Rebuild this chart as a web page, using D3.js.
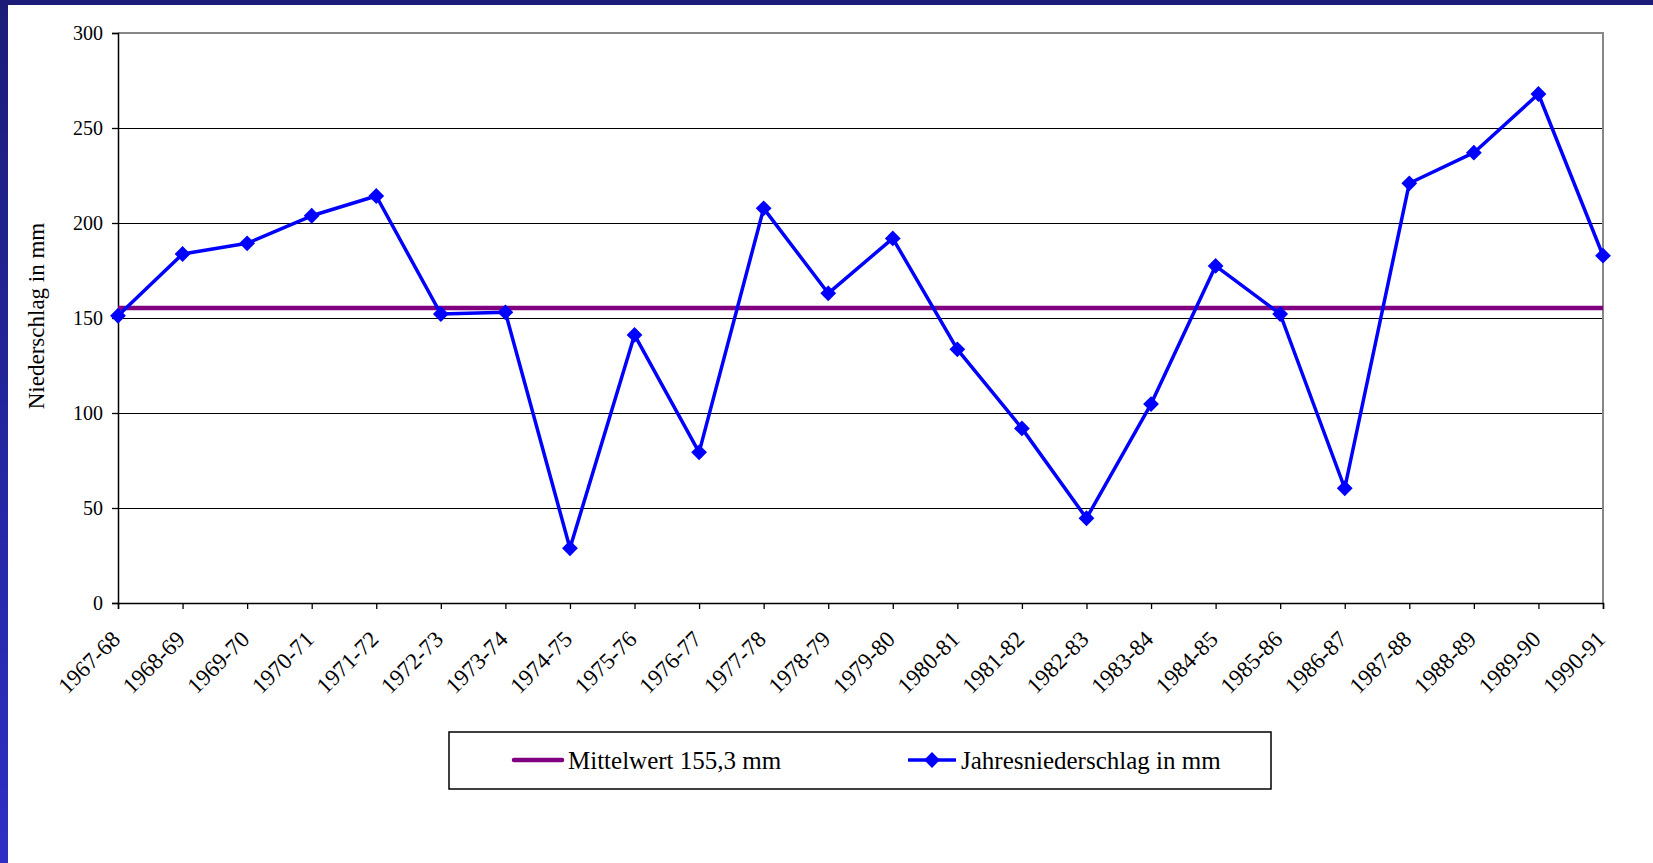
<!DOCTYPE html>
<html>
<head>
<meta charset="utf-8">
<script src="https://cdn.jsdelivr.net/npm/d3@7"></script>
<style>
  html, body { margin: 0; padding: 0; background: #fff; }
  #chart { width: 1653px; height: 863px; }
  text { font-family: "Liberation Serif", "Times New Roman", serif; fill: #000; }
</style>
</head>
<body>
<div id="chart"></div>
<script>
// jahre (x categories)
const years = ["1967-68", "1968-69", "1969-70", "1970-71", "1971-72", "1972-73", "1973-74",
  "1974-75", "1975-76", "1976-77", "1977-78", "1978-79", "1979-80", "1980-81", "1981-82",
  "1982-83", "1983-84", "1984-85", "1985-86", "1986-87", "1987-88", "1988-89", "1989-90", "1990-91"];

// Jahresniederschlag in mm
const niederschlag = [151.2, 183.7, 189.3, 203.8, 214.2, 152.1, 153.0, 28.8, 141.1, 79.3,
  207.7, 163.0, 191.9, 133.5, 91.9, 44.6, 104.7, 177.4, 152.1, 60.4, 220.9, 237.0, 267.9, 182.8];

const mittelwert = 155.3;
const yTicks = [0, 50, 100, 150, 200, 250, 300];
const seriesNames = ["Mittelwert 155,3 mm", "Jahresniederschlag in mm"];

const W = 1653, H = 863;
const margin = { top: 33, right: 50, bottom: 260, left: 118 };

const svg = d3.select("#chart")
  .append("svg")
  .attr("width", W)
  .attr("height", H);

// slide frame: dark band on top, blue band on the left
const grad = svg.append("defs").append("linearGradient")
  .attr("id", "leftband").attr("x1", 0).attr("y1", 0).attr("x2", 0).attr("y2", 1);
grad.append("stop").attr("offset", "0%").attr("stop-color", "#1c1c78");
grad.append("stop").attr("offset", "100%").attr("stop-color", "#2f2fc4");

svg.append("rect").attr("x", 0).attr("y", 0).attr("width", 8).attr("height", H).attr("fill", "url(#leftband)");
svg.append("rect").attr("x", 0).attr("y", 0).attr("width", W).attr("height", 5).attr("fill", "#1c1c78");

const x = d3.scalePoint().domain(years).range([margin.left, W - margin.right]);
const y = d3.scaleLinear().domain([0, 300]).range([H - margin.bottom, margin.top]);

const left = x.range()[0], right = x.range()[1];

// grid lines
svg.append("g")
  .selectAll("line")
  .data(yTicks.filter(d => d > 0 && d < 300))
  .join("line")
  .attr("x1", left).attr("x2", right)
  .attr("y1", d => y(d)).attr("y2", d => y(d))
  .attr("stroke", "#000")
  .attr("stroke-width", 1)
  .attr("shape-rendering", "crispEdges");

// plot border top/right (grey)
svg.append("path")
  .attr("d", `M${left},${y(300)}H${right}V${y(0)}`)
  .attr("fill", "none")
  .attr("stroke", "#888")
  .attr("stroke-width", 1.5)
  .attr("shape-rendering", "crispEdges");

// y axis
const yAxis = svg.append("g")
  .attr("transform", `translate(${left},0)`)
  .call(d3.axisLeft(y).tickValues(yTicks).tickSize(6).tickPadding(9));
yAxis.select(".domain").attr("stroke", "#000").attr("stroke-width", 1.5);
yAxis.selectAll(".tick line").attr("stroke", "#000").attr("stroke-width", 1.3);
yAxis.selectAll(".tick text")
  .style("font-family", '"Liberation Serif", "Times New Roman", serif')
  .style("font-size", "20px")
  .attr("fill", "#000");

// x axis
const xAxis = svg.append("g")
  .attr("transform", `translate(0,${y(0)})`)
  .call(d3.axisBottom(x).tickSize(6).tickFormat(""));
xAxis.select(".domain").attr("stroke", "#000").attr("stroke-width", 1.5);
xAxis.selectAll(".tick line").attr("stroke", "#000").attr("stroke-width", 1.3);

svg.append("g")
  .selectAll("text")
  .data(years)
  .join("text")
  .attr("transform", d => `translate(${x(d) - 2},${y(0) + 32}) rotate(-45)`)
  .attr("text-anchor", "end")
  .attr("dy", "0.35em")
  .style("font-size", "23px")
  .text(d => d);

// y label
svg.append("text")
  .attr("transform", `translate(36,316) rotate(-90)`)
  .attr("text-anchor", "middle")
  .attr("dy", "0.35em")
  .style("font-size", "23px")
  .text("Niederschlag in mm");

// mean line
svg.append("line")
  .attr("x1", left).attr("x2", right)
  .attr("y1", y(mittelwert)).attr("y2", y(mittelwert))
  .attr("stroke", "#800080")
  .attr("stroke-width", 4.5);

// series
let line = d3.line()
  .x((d, i) => x(years[i]))
  .y(d => y(d));

svg.append("path")
  .datum(niederschlag)
  .attr("d", line)
  .attr("fill", "none")
  .attr("stroke", "#0000ff")
  .attr("stroke-width", 3.5)
  .attr("stroke-linejoin", "round");

const diamond = d3.symbol().type(d3.symbolSquare).size(125);

svg.append("g")
  .selectAll("path")
  .data(niederschlag)
  .join("path")
  .attr("d", diamond)
  .attr("transform", (d, i) => `translate(${x(years[i])},${y(d)}) rotate(45)`)
  .attr("fill", "#0000ff");

// legend
const legend = svg.append("g");
legend.append("rect")
  .attr("x", 449).attr("y", 732)
  .attr("width", 822).attr("height", 57)
  .attr("fill", "#fff")
  .attr("stroke", "#000")
  .attr("stroke-width", 1.5);

const ly = 760;
legend.append("line")
  .attr("x1", 514).attr("x2", 562).attr("y1", ly).attr("y2", ly)
  .attr("stroke", "#800080").attr("stroke-width", 4.5).attr("stroke-linecap", "round");
legend.append("text")
  .attr("x", 568).attr("y", ly).attr("dy", "0.35em")
  .style("font-size", "25px")
  .text(seriesNames[0]);

legend.append("line")
  .attr("x1", 908).attr("x2", 956).attr("y1", ly).attr("y2", ly)
  .attr("stroke", "#0000ff").attr("stroke-width", 3.5);
legend.append("path")
  .attr("d", diamond)
  .attr("transform", `translate(932,${ly}) rotate(45)`)
  .attr("fill", "#0000ff");
legend.append("text")
  .attr("x", 961).attr("y", ly).attr("dy", "0.35em")
  .style("font-size", "25px")
  .text(seriesNames[1]);
</script>
</body>
</html>
